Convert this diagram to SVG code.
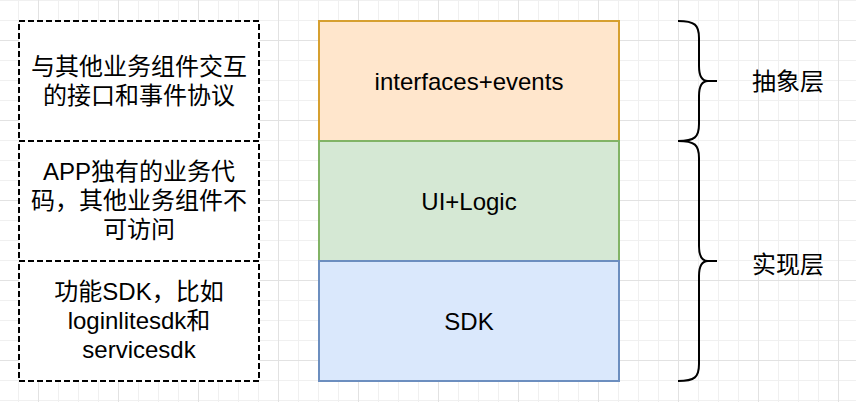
<svg xmlns="http://www.w3.org/2000/svg" width="856" height="402" viewBox="0 0 856 402">
  <defs>
    <pattern id="grid" patternUnits="userSpaceOnUse" x="38" y="40" width="80" height="80">
      <rect x="0" y="0" width="80" height="80" fill="#ffffff"/>
      <path d="M20.5,0V80M40.5,0V80M60.5,0V80M0,20.5H80M0,40.5H80M0,60.5H80" stroke="#f0f0f0" stroke-width="1" fill="none"/>
      <path d="M0.5,0V80M0,0.5H80" stroke="#e2e2e2" stroke-width="1" fill="none"/>
    </pattern>
    <style>
      .dash { fill: #ffffff; stroke: #000000; stroke-width: 2; stroke-dasharray: 6 3; }
      .txt { font-family: "Liberation Sans", Arial, "Noto Sans CJK SC", sans-serif; font-size: 24px; fill: #000000; }
      .mid { text-anchor: middle; }
      .orange { fill: #ffe6cc; stroke: #d6a030; stroke-width: 2; }
      .green { fill: #d5e8d4; stroke: #82b366; stroke-width: 2; }
      .blue { fill: #dae8fc; stroke: #6c8ebf; stroke-width: 2; }
      .brace { fill: none; stroke: #000000; stroke-width: 2; }
    </style>
  </defs>
  <rect x="0" y="0" width="856" height="402" fill="url(#grid)"/>

  <g id="desc-interfaces">
    <rect class="dash" x="19" y="21" width="240" height="120"/>
    <text class="txt mid" x="139" y="75">与其他业务组件交互</text>
    <text class="txt mid" x="139" y="104">的接口和事件协议</text>
  </g>
  <g id="desc-logic">
    <rect class="dash" x="19" y="141" width="240" height="120"/>
    <text class="txt mid" x="139" y="180">APP独有的业务代</text>
    <text class="txt mid" x="139" y="209">码，其他业务组件不</text>
    <text class="txt mid" x="139" y="238">可访问</text>
  </g>
  <g id="desc-sdk">
    <rect class="dash" x="19" y="261" width="240" height="120"/>
    <text class="txt mid" x="139" y="300">功能SDK，比如</text>
    <text class="txt mid" x="139" y="329">loginlitesdk和</text>
    <text class="txt mid" x="139" y="358">servicesdk</text>
  </g>

  <g id="layer-interfaces">
    <rect class="orange" x="319" y="21" width="300" height="120"/>
    <text class="txt mid" x="469" y="90">interfaces+events</text>
  </g>
  <g id="layer-logic">
    <rect class="green" x="319" y="141" width="300" height="120"/>
    <text class="txt mid" x="469" y="210">UI+Logic</text>
  </g>
  <g id="layer-sdk">
    <rect class="blue" x="319" y="261" width="300" height="120"/>
    <text class="txt mid" x="469" y="330">SDK</text>
  </g>

  <g id="brace-abstract">
    <path class="brace" d="M678,21 C695,21 699,25 699,38 L699,66 C699,77 702,81 708,81 L717,81 M708,81 C702,81 699,85 699,96 L699,124 C699,137 695,141 678,141"/>
    <text class="txt" x="752" y="90">抽象层</text>
  </g>
  <g id="brace-impl">
    <path class="brace" d="M678,141 C695,141 699,145 699,158 L699,246 C699,257 702,261 708,261 L717,261 M708,261 C702,261 699,265 699,276 L699,364 C699,377 695,381 678,381"/>
    <text class="txt" x="752" y="273">实现层</text>
  </g>

  <g id="connectors"/>
</svg>
